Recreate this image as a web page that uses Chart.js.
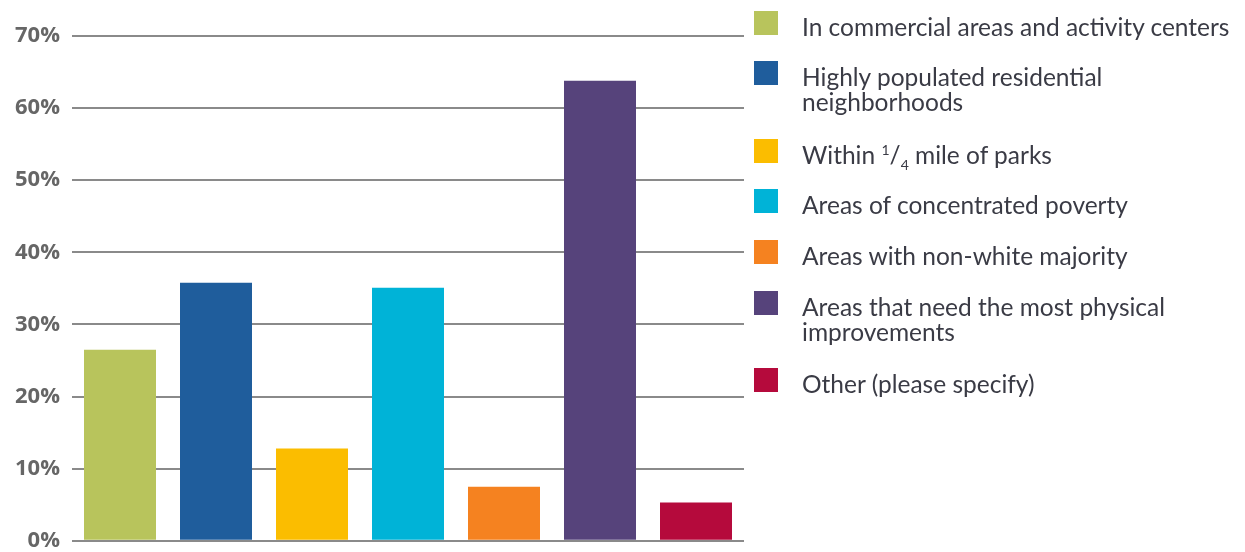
<!DOCTYPE html>
<html>
<head>
<meta charset="utf-8">
<script src="https://cdn.jsdelivr.net/npm/chart.js@4.4.1/dist/chart.umd.min.js"></script>
<style>
  html, body { margin: 0; padding: 0; background: #ffffff; }
  #wrap { position: relative; width: 1245px; height: 552px; overflow: hidden; }
  #chart { position: absolute; left: 0; top: 0; }
  .item { position: absolute; left: 754px; }
  .swatch { position: absolute; left: 0; top: 0; width: 24px; height: 24px; }
  .label { position: absolute; left: 48px; white-space: nowrap; font-family: Lato, "Open Sans", sans-serif;
           font-size: 24.5px; line-height: 25px; color: #3a3b45; }
  .label sup, .label sub { font-size: 14px; line-height: 0; }
</style>
</head>
<body>
<div id="wrap">
  <canvas id="chart" width="1245" height="566"></canvas>
  <div id="legend"></div>
</div>
<script>
// Survey answer categories, shown in the legend (line breaks mark wrapped labels)
const categories = [
  "In commercial areas and activity centers",
  "Highly populated residential\nneighborhoods",
  "Within 1/4 mile of parks",
  "Areas of concentrated poverty",
  "Areas with non-white majority",
  "Areas that need the most physical\nimprovements",
  "Other (please specify)"
];
// Share of respondents (%)
const shares = [26.5, 35.8, 12.8, 35.1, 7.5, 63.8, 5.3];
const barColors = ["#b8c45c", "#1f5d9c", "#fbbd00", "#00b3d7", "#f58220", "#56437b", "#b50a3c"];
const yTicks = [0, 10, 20, 30, 40, 50, 60, 70];

// Legend placement (top of each swatch)
const legendTops = [11, 61, 139, 189, 240, 291, 368];

const chart = new Chart(document.getElementById("chart"), {
  type: "bar",
  data: {
    labels: categories,
    datasets: [{
      data: shares,
      backgroundColor: barColors,
      borderWidth: 0,
      barPercentage: 0.75,
      categoryPercentage: 1.0
    }]
  },
  options: {
    responsive: false,
    animation: false,
    layout: { padding: { top: 36, right: 501, bottom: 12, left: 0 } },
    plugins: { legend: { display: false }, tooltip: { enabled: false } },
    scales: {
      x: { display: false },
      y: {
        min: 0, max: 70,
        afterBuildTicks: (scale) => { scale.ticks = yTicks.map(v => ({ value: v })); },
        afterFit: (scale) => { scale.width = 72; },
        border: { display: false },
        grid: { color: "#8a8a8a", lineWidth: 2, drawTicks: false },
        ticks: {
          padding: 12,
          color: "#666666",
          font: { family: "'Open Sans'", size: 22, weight: "bold" },
          callback: (v) => v + "%"
        }
      }
    }
  }
});

// HTML legend with swatches and wrapped labels
const legend = document.getElementById("legend");
categories.forEach((name, i) => {
  const item = document.createElement("div");
  item.className = "item";
  item.style.top = legendTops[i] + "px";
  const sw = document.createElement("div");
  sw.className = "swatch";
  sw.style.background = barColors[i];
  const lab = document.createElement("div");
  lab.className = "label";
  lab.style.top = "3px";
  lab.innerHTML = name.split("\n").map(s =>
    s.replace("1/4", "<sup>1</sup>/<sub>4</sub>")).join("<br>");
  item.appendChild(sw);
  item.appendChild(lab);
  legend.appendChild(item);
});
</script>
</body>
</html>
